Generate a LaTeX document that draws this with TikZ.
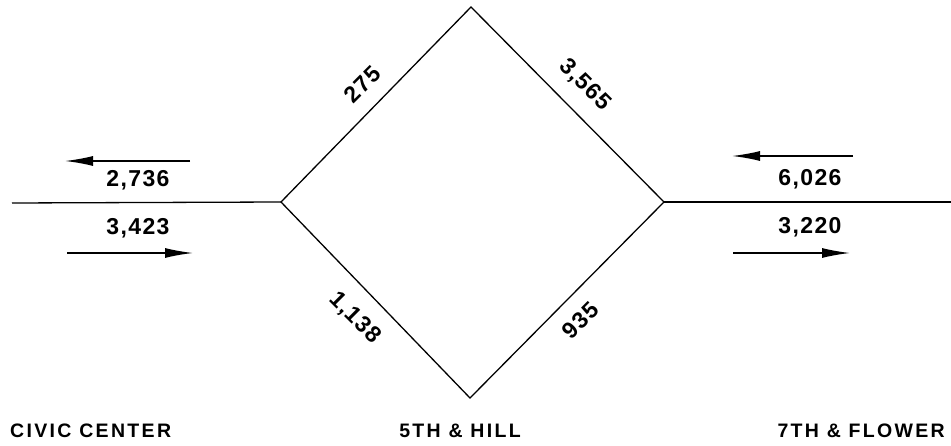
\documentclass[tikz,border=0pt]{standalone}
\usepackage{fontspec}
\setmainfont{Liberation Sans}[LetterSpace=6]
\newfontfamily\labfont{Liberation Sans}[LetterSpace=12]
\usetikzlibrary{arrows.meta}
\begin{document}
\begin{tikzpicture}[x=1pt,y=-1pt,
  road/.style={line width=1.3pt, line join=miter},
  flow/.style={line width=1.5pt, -{Latex[length=28pt,width=10pt]}},
  num/.style={font=\fontsize{23}{23}\selectfont\bfseries, inner sep=0pt},
  place/.style={font=\labfont\fontsize{19.5}{20}\selectfont\bfseries, inner sep=0pt}]
\useasboundingbox (0,0) rectangle (951,446);
% diamond vertices and road ends
\coordinate (L) at (281,202);
\coordinate (T) at (471,7);
\coordinate (R) at (664,202);
\coordinate (B) at (470,398);
\coordinate (WE) at (12,203);
\coordinate (EE) at (951,202);
% roads
\draw[road] (L) -- (T) -- (R) -- (B) -- cycle;
\draw[road] (WE) -- (L);
\draw[road] (R) -- (EE);
% direction arrows
\coordinate (a1s) at (190,161); \coordinate (a1e) at (65,161);
\coordinate (a2s) at (67,253);  \coordinate (a2e) at (193,253);
\coordinate (a3s) at (853,156); \coordinate (a3e) at (732,156);
\coordinate (a4s) at (733,253); \coordinate (a4e) at (850,253);
\draw[flow] (a1s) -- (a1e);
\draw[flow] (a2s) -- (a2e);
\draw[flow] (a3s) -- (a3e);
\draw[flow] (a4s) -- (a4e);
% flow numbers
\node[num] (n1) at (138,180) {2,736};
\node[num] (n2) at (138,228) {3,423};
\node[num] (n3) at (810,179) {6,026};
\node[num] (n4) at (810,227) {3,220};
\node[num, rotate=45] (n5) at (362,84) {275};
\node[num, rotate=-45] (n6) at (585,85) {3,565};
\node[num, rotate=-45] (n7) at (355,318) {1,138};
\node[num, rotate=45] (n8) at (580,320) {935};
% station names
\node[place, anchor=west] (s1) at (10,431) {CIVIC CENTER};
\node[place] (s2) at (460,431) {5TH \& HILL};
\node[place, anchor=east] (s3) at (945,431) {7TH \& FLOWER};
\end{tikzpicture}
\end{document}
